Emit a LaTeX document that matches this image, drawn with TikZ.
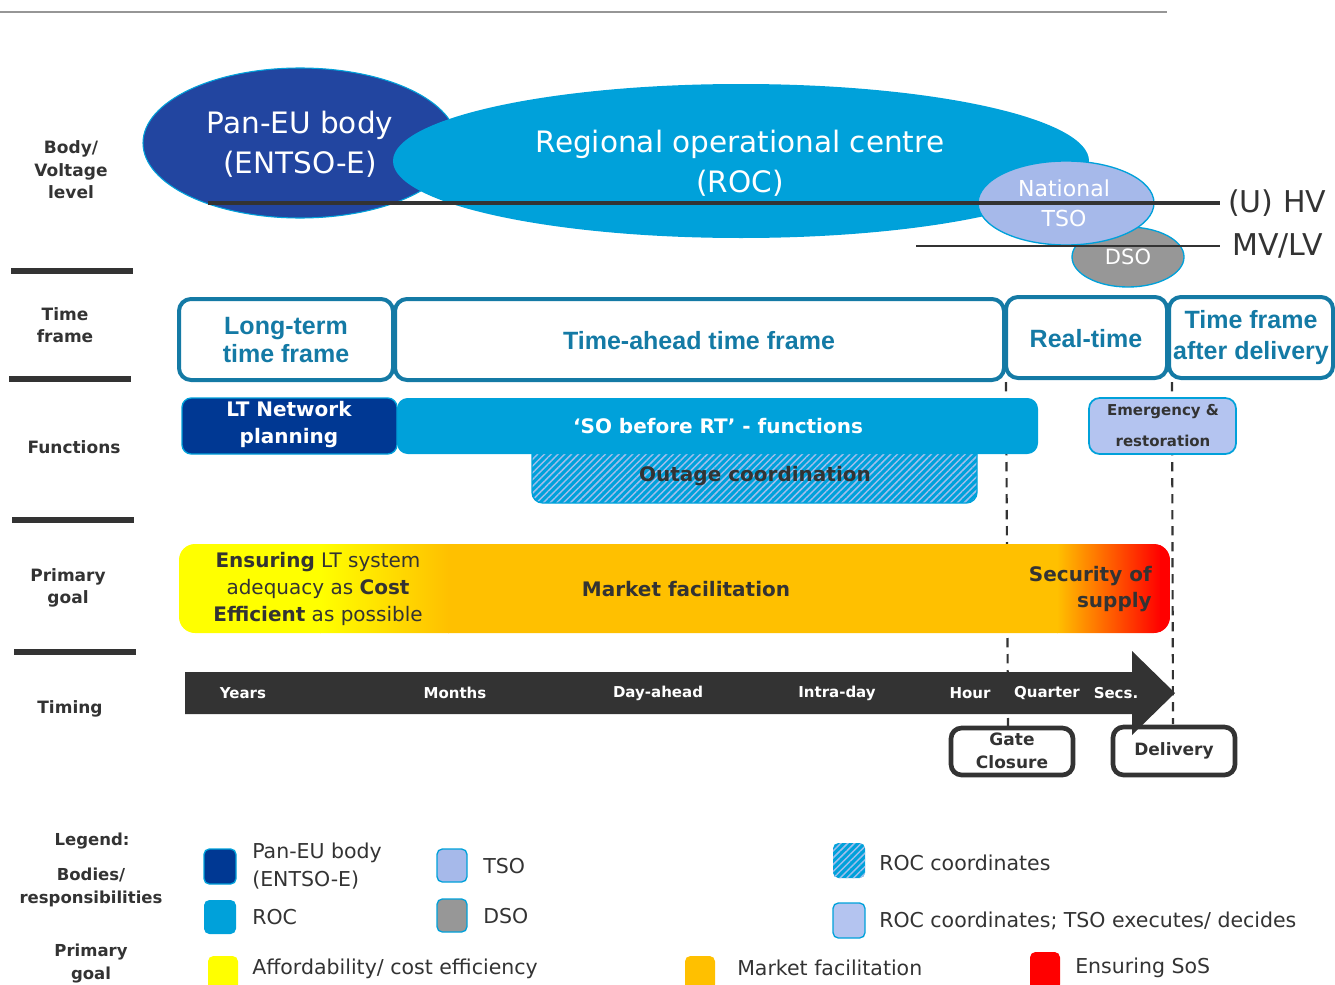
\documentclass[tikz,border=0pt]{standalone}
\usepackage{fontspec}
\setmainfont{DejaVu Sans}
\newfontfamily\arialfont{Liberation Sans}
\usetikzlibrary{patterns.meta}
\definecolor{dark}{RGB}{51,51,51}
\definecolor{panblue}{RGB}{34,69,160}
\definecolor{navy}{RGB}{0,56,147}
\definecolor{roc}{RGB}{0,161,218}
\definecolor{tso}{RGB}{166,185,234}
\definecolor{dso}{RGB}{151,151,151}
\definecolor{tfblue}{RGB}{20,122,165}
\definecolor{hatchc}{RGB}{160,190,236}
\definecolor{emer}{RGB}{180,196,240}
\definecolor{gyellow}{RGB}{255,255,0}
\definecolor{gorange}{RGB}{255,192,0}
\definecolor{gred}{RGB}{255,0,0}
\definecolor{topgray}{RGB}{150,150,150}
\newcommand\fpx[2]{\fontsize{\dimexpr #1pt*3/4\relax}{\dimexpr #2pt*3/4\relax}\selectfont}
\begin{document}
\begin{tikzpicture}[x=0.75pt,y=-0.75pt,
  lbl/.style={font=\bfseries\fpx{17}{22.5}, text=dark, align=center, inner sep=0},
  sep/.style={draw=dark, line width=4.5pt},
  bigtxt/.style={font=\fpx{29.5}{40}, text=white, align=center, inner sep=0},
  tfbox/.style={draw=tfblue, line width=3pt, fill=white, rounded corners=9pt},
  tftext/.style={font=\arialfont\bfseries\fpx{25}{28}, text=tfblue, align=center, inner sep=0},
  fntext/.style={font=\bfseries\fpx{20}{27}, text=white, align=center, inner sep=0},
  goaltext/.style={font=\fpx{20}{27}, text=dark, align=center, inner sep=0},
  timtext/.style={font=\bfseries\fpx{15}{18}, text=white, inner sep=0},
  markbox/.style={draw=dark, line width=3.5pt, fill=white, rounded corners=8pt},
  marktext/.style={font=\bfseries\fpx{17}{23}, text=dark, align=center, inner sep=0},
  legtext/.style={font=\fpx{20.5}{28}, text=dark, align=left, anchor=west, inner sep=0},
  legsq/.style={rounded corners=4pt},
  dline/.style={draw=dark, line width=1.6pt, dash pattern=on 7pt off 5pt},
  hatchfill/.style={pattern={Lines[angle=45,distance=3.6pt,line width=1.1pt]}, pattern color=hatchc}
]
\useasboundingbox (0,0) rectangle (1335,985);
\draw[topgray, line width=1.5pt] (0,12) -- (1167,12);

% ---------- left labels ----------
\node[lbl] (l1) at (71,170) {Body/\\Voltage\\level};
\node[lbl] (l2) at (65,325) {Time\\frame};
\node[lbl] (l3) at (74,447) {Functions};
\node[lbl] (l4) at (68,588) {Primary\\goal};
\node[lbl] (l5) at (70,709) {Timing};
\draw[sep] (11,271) -- (133,271);
\draw[sep] (9,379) -- (131,379);
\draw[sep] (12,520) -- (134,520);
\draw[sep] (14,652) -- (136,652);

% ---------- bodies ----------
\path[fill=panblue, draw=roc, line width=0.8pt] (300,143) ellipse [x radius=157, y radius=75];
\node[bigtxt] (pan) at (300,144) {Pan-EU body\\(ENTSO-E)};
\path[fill=roc] (741,161) ellipse [x radius=348, y radius=77];
\node[bigtxt] (rocn) at (740,163) {Regional operational centre\\(ROC)};
\path[fill=dso, draw=roc, line width=1pt] (1128,257) ellipse [x radius=56, y radius=30];
\path[fill=tso, draw=roc, line width=1pt] (1066,203) ellipse [x radius=88, y radius=42];
\node[font=\fpx{22}{30}, text=white, align=center, inner sep=0] (tsot) at (1064,203) {National\\TSO};
\node[font=\fpx{21}{25}, text=white, inner sep=0] (dsot) at (1128,257) {DSO};
\node[font=\fpx{30}{34}, text=dark, anchor=west, inner sep=0] (hv) at (1228,203) {(U) HV};
\node[font=\fpx{30}{34}, text=dark, anchor=west, inner sep=0] (mv) at (1232,246) {MV/LV};
\coordinate (hvs) at (208,203);
\coordinate (hve) at (1220,203);
\coordinate (mvs) at (916,246);
\coordinate (mve) at (1220,246);
\draw[dark, line width=2.8pt] (hvs) -- (hve);
\draw[dark, line width=1.8pt] (mvs) -- (mve);

% ---------- dashed markers ----------
\coordinate (d1a) at (1006,382);
\coordinate (d1b) at (1008,728);
\coordinate (d2a) at (1172,382);
\coordinate (d2b) at (1173,724);
\draw[dline] (d1a) -- (d1b);
\draw[dline] (d2a) -- (d2b);

% ---------- time frames ----------
\path[tfbox] (179,299) rectangle (393,380);
\node[tftext] (tf1) at (286,340) {Long-term\\time frame};
\path[tfbox] (395,299) rectangle (1004,380);
\node[tftext] (tf2) at (699,341) {Time-ahead time frame};
\path[tfbox] (1006,297) rectangle (1167,378);
\node[tftext] (tf3) at (1086,339) {Real-time};
\path[tfbox] (1169,297) rectangle (1333,378);
\node[tftext, font=\arialfont\bfseries\fpx{25}{31}] (tf4) at (1251,338) {Time frame\\after delivery};

% ---------- functions ----------
\path[fill=roc, rounded corners=8pt] (532,440) rectangle (977,503);
\path[hatchfill, rounded corners=8pt] (532,440) rectangle (977,503);
\draw[roc, line width=1pt, rounded corners=8pt] (532,440) rectangle (977,503);
\path[fill=roc, rounded corners=8pt] (397,398) rectangle (1038,454);
\path[fill=navy, draw=roc, line width=1pt, rounded corners=7pt] (182,398) rectangle (397,454);
\node[fntext] (f1) at (289,425) {LT Network\\planning};
\node[fntext] (f2) at (718,426) {‘SO before RT’ - functions};
\node[fntext, text=dark] (f3) at (755,476) {Outage coordination};
\path[fill=emer, draw=roc, line width=1.3pt, rounded corners=8pt] (1089,398) rectangle (1236,454);
\node[font=\bfseries\fpx{15}{31}, text=dark, align=center, inner sep=0] (f4) at (1163,426) {Emergency \&\\restoration};

% ---------- primary goal ----------
\begin{scope}
\clip[rounded corners=12pt] (179,544) rectangle (1170,633);
\fill[gyellow] (178,543) rectangle (321,634);
\shade[left color=gyellow, right color=gorange] (320,543) rectangle (449,634);
\fill[gorange] (448,543) rectangle (1058,634);
\shade[left color=gorange, right color=gred] (1057,543) rectangle (1161,634);
\fill[gred] (1160,543) rectangle (1171,634);
\end{scope}
\node[goaltext] (g1) at (318,589) {\textbf{Ensuring} LT system\\adequacy as \textbf{Cost}\\\textbf{Efficient} as possible};
\node[goaltext, font=\bfseries\fpx{20}{27}] (g2) at (686,589) {Market facilitation};
\node[goaltext, font=\bfseries\fpx{20}{26}, align=right, anchor=east] (g3) at (1152,589) {Security of\\supply};

% ---------- timing ----------
\path[markbox] (1113,727) rectangle (1235,775);
\node[marktext] (deliv) at (1174,751) {Delivery};
\path[markbox] (951,728) rectangle (1073,775);
\node[marktext] (gate) at (1012,751) {Gate\\Closure};
\fill[dark] (185,672) -- (1132,672) -- (1132,651) -- (1175,693) -- (1132,735) -- (1132,714) -- (185,714) -- cycle;
\node[timtext] (t1) at (243,693) {Years};
\node[timtext] (t2) at (455,693) {Months};
\node[timtext] (t3) at (658,693) {Day-ahead};
\node[timtext] (t4) at (837,693) {Intra-day};
\node[timtext] (t5) at (970,693) {Hour};
\node[timtext] (t6) at (1047,693) {Quarter};
\node[timtext] (t7) at (1116,693) {Secs.};

% ---------- legend ----------
\node[lbl, font=\bfseries\fpx{16.5}{23}] (lg0) at (92,841) {Legend:};
\node[lbl, font=\bfseries\fpx{16.5}{23}] (lg1) at (91,887) {Bodies/\\responsibilities};
\node[lbl, font=\bfseries\fpx{16.5}{23}] (lg2) at (91,964) {Primary\\goal};

\path[legsq, fill=navy, draw=roc, line width=1pt] (204,849) rectangle (236,884);
\node[legtext] (k1) at (252,866) {Pan-EU body\\(ENTSO-E)};
\path[legsq, fill=roc] (204,900) rectangle (236,934);
\node[legtext] (k2) at (252,917) {ROC};
\path[legsq, fill=tso, draw=roc, line width=1pt] (437,849) rectangle (467,882);
\node[legtext] (k3) at (483,866) {TSO};
\path[legsq, fill=dso, draw=roc, line width=1pt] (437,899) rectangle (467,932);
\node[legtext] (k4) at (483,916) {DSO};
\path[legsq, fill=roc] (833,843) rectangle (865,878);
\path[legsq, hatchfill] (833,843) rectangle (865,878);
\node[legtext] (k5) at (879,863) {ROC coordinates};
\path[legsq, fill=emer, draw=roc, line width=1pt] (833,903) rectangle (865,938);
\node[legtext] (k6) at (879,921) {ROC coordinates; TSO executes/ decides};
\path[legsq, fill=gyellow] (208,956) rectangle (238,990);
\node[legtext] (k7) at (252,969) {Affordability/ cost efficiency};
\path[legsq, fill=gorange] (685,956) rectangle (715,990);
\node[legtext] (k8) at (737,968) {Market facilitation};
\path[legsq, fill=gred] (1030,952) rectangle (1060,990);
\node[legtext] (k9) at (1075,968) {Ensuring SoS};
\end{tikzpicture}
\end{document}
